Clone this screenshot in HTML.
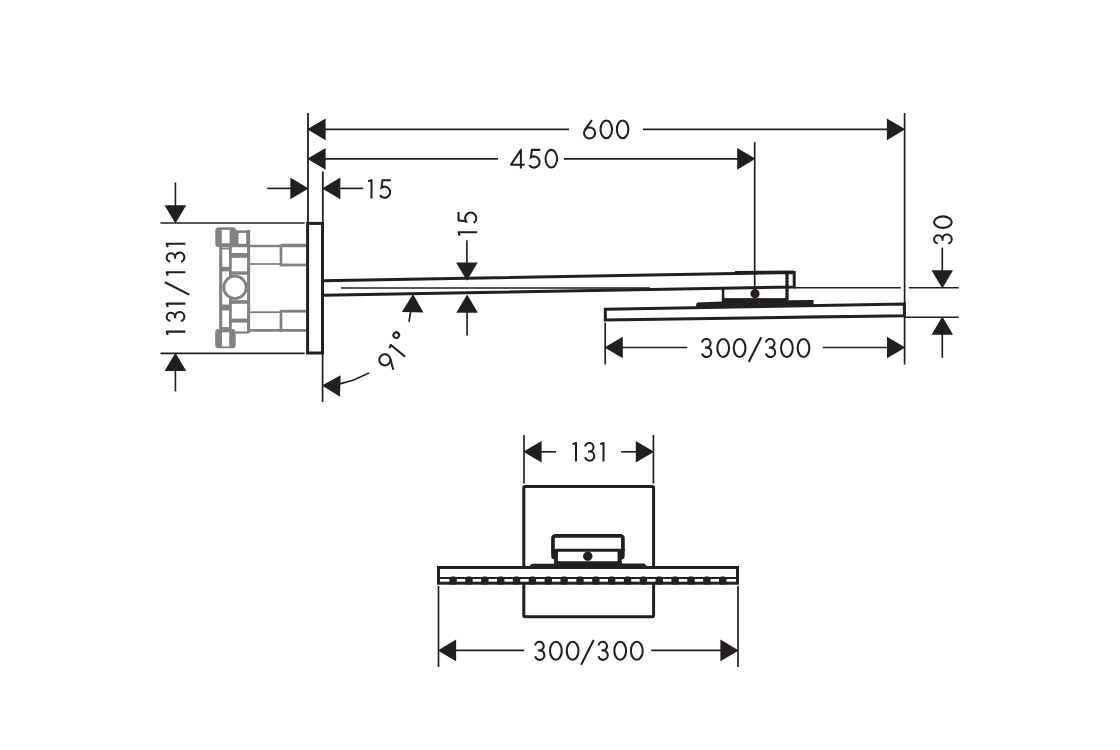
<!DOCTYPE html>
<html><head><meta charset="utf-8"><title>Drawing</title>
<style>html,body{margin:0;padding:0;background:#fff;width:1120px;height:750px;overflow:hidden}svg{display:block}</style>
</head><body><svg width="1120" height="750" viewBox="0 0 1120 750"><line x1="308" y1="129.35" x2="569" y2="129.35" stroke="#231f20" stroke-width="1.65"/><line x1="643" y1="129.35" x2="890" y2="129.35" stroke="#231f20" stroke-width="1.65"/><path d="M307.3 129.35 L325.6 118.55 L325.6 140.15 Z" fill="#231f20"/><path d="M905.2 129.35 L886.9 140.15 L886.9 118.55 Z" fill="#231f20"/><g fill="none" stroke="#231f20" stroke-width="2.05"><g transform="translate(589.6 119.6) scale(1)"><path d="M2.3 0.6 L-4.51 10.12"/><circle cx="0" cy="13.35" r="5.55"/></g><g transform="translate(606.3 119.6) scale(1)"><ellipse cx="0" cy="9.8" rx="5.75" ry="8.85"/></g><g transform="translate(622.6 119.6) scale(1)"><ellipse cx="0" cy="9.8" rx="5.75" ry="8.85"/></g></g><line x1="320" y1="158.85" x2="498" y2="158.85" stroke="#231f20" stroke-width="1.65"/><line x1="564" y1="158.85" x2="740" y2="158.85" stroke="#231f20" stroke-width="1.65"/><path d="M307.3 158.85 L325.6 148.05 L325.6 169.65 Z" fill="#231f20"/><path d="M755.5 158.85 L737.2 169.65 L737.2 148.05 Z" fill="#231f20"/><g fill="none" stroke="#231f20" stroke-width="2.05"><g transform="translate(520.9 148.9) scale(1)"><path d="M0 19.7 L0 0.95 L-10.0 15.8 L3.8 15.8" stroke-linejoin="round"/></g><g transform="translate(534 148.9) scale(1)"><path d="M6.3 0.95 L-2.1 0.95 L-3.13 8.46 A5.6 5.6 0 1 1 -4.75 16.07" stroke-linejoin="miter"/></g><g transform="translate(551.3 148.9) scale(1)"><ellipse cx="0" cy="9.8" rx="5.75" ry="8.85"/></g></g><line x1="308" y1="113" x2="308" y2="223" stroke="#231f20" stroke-width="1.8"/><line x1="904.6" y1="113" x2="904.6" y2="364.5" stroke="#231f20" stroke-width="1.7"/><line x1="754.7" y1="142.2" x2="754.7" y2="293" stroke="#231f20" stroke-width="1.7"/><line x1="267.2" y1="188.4" x2="295" y2="188.4" stroke="#231f20" stroke-width="1.65"/><path d="M308.6 188.4 L290.3 199.2 L290.3 177.6 Z" fill="#231f20"/><path d="M322.1 188.4 L340.4 177.6 L340.4 199.2 Z" fill="#231f20"/><line x1="335" y1="188.4" x2="363.2" y2="188.4" stroke="#231f20" stroke-width="1.65"/><g fill="none" stroke="#231f20" stroke-width="2.05"><g transform="translate(371.5 179.2) scale(0.99)"><path d="M-3.4 2.1 L0 0.95 L0 19.6" stroke-linejoin="round"/></g><g transform="translate(384.6 179.2) scale(0.99)"><path d="M6.3 0.95 L-2.1 0.95 L-3.13 8.46 A5.6 5.6 0 1 1 -4.75 16.07" stroke-linejoin="miter"/></g></g><line x1="322.8" y1="171.5" x2="322.8" y2="223" stroke="#231f20" stroke-width="1.8"/><line x1="322.6" y1="352" x2="322.6" y2="402" stroke="#231f20" stroke-width="1.7"/><line x1="175.4" y1="182.5" x2="175.4" y2="210" stroke="#231f20" stroke-width="1.65"/><path d="M175.4 223.6 L164.6 205.3 L186.2 205.3 Z" fill="#231f20"/><line x1="160.5" y1="223" x2="304.7" y2="223" stroke="#231f20" stroke-width="1.7"/><line x1="160.5" y1="353.4" x2="304.7" y2="353.4" stroke="#231f20" stroke-width="1.7"/><path d="M175.4 352.7 L186.2 371 L164.6 371 Z" fill="#231f20"/><line x1="175.4" y1="365" x2="175.4" y2="391.5" stroke="#231f20" stroke-width="1.65"/><g fill="none" stroke="#231f20" stroke-width="2.05"><g transform="translate(165.7 331.6) rotate(-90) scale(1)"><path d="M-3.4 2.1 L0 0.95 L0 19.6" stroke-linejoin="round"/></g><g transform="translate(165.7 316.9) rotate(-90) scale(1)"><path d="M-4.16 4.62 A4.2 4.2 0 1 1 -0.15 9.4 M-1.3 9.45 L0.27 9.4 A4.63 4.63 0 1 1 -4.2 15.23"/></g><g transform="translate(165.7 303.6) rotate(-90) scale(1)"><path d="M-3.4 2.1 L0 0.95 L0 19.6" stroke-linejoin="round"/></g><g transform="translate(165.7 288.4) rotate(-90) scale(1)"><path d="M6.15 -0.8 L-6.15 23.6"/></g><g transform="translate(165.7 272.2) rotate(-90) scale(1)"><path d="M-3.4 2.1 L0 0.95 L0 19.6" stroke-linejoin="round"/></g><g transform="translate(165.7 257.5) rotate(-90) scale(1)"><path d="M-4.16 4.62 A4.2 4.2 0 1 1 -0.15 9.4 M-1.3 9.45 L0.27 9.4 A4.63 4.63 0 1 1 -4.2 15.23"/></g><g transform="translate(165.7 243.7) rotate(-90) scale(1)"><path d="M-3.4 2.1 L0 0.95 L0 19.6" stroke-linejoin="round"/></g></g><rect x="307.6" y="223.4" width="14.9" height="129.6" fill="none" stroke="#231f20" stroke-width="3"/><path d="M323 280.7 L794.2 272.5 L794.2 287.0 L323 295.2" fill="none" stroke="#231f20" stroke-width="3" stroke-linejoin="miter"/><line x1="735" y1="272" x2="794" y2="271.6" stroke="#231f20" stroke-width="2"/><line x1="341" y1="288" x2="650" y2="288" stroke="#231f20" stroke-width="1.7"/><line x1="787" y1="272.5" x2="787" y2="300.2" stroke="#231f20" stroke-width="3.3"/><line x1="723.1" y1="288" x2="723.1" y2="300.5" stroke="#231f20" stroke-width="2.6"/><line x1="723.1" y1="299.4" x2="787" y2="299.4" stroke="#231f20" stroke-width="2.2"/><circle cx="755" cy="293.7" r="4.6" fill="#231f20"/><path d="M697.5 302.4 L722 301.6 L722 298.6 L788 298.6 L788 300.3 L813.6 300.0 L813.6 305.5 L696.2 307.5 Q695.6 303 697.5 302.4 Z" fill="#231f20"/><line x1="794" y1="287.8" x2="900.8" y2="287.8" stroke="#231f20" stroke-width="1.5"/><line x1="908.8" y1="287.8" x2="958.7" y2="287.8" stroke="#231f20" stroke-width="1.5"/><path d="M605.3 309.25 L904.4 303.95 L904.4 315.65 L605.3 320.1 Z" fill="none" stroke="#231f20" stroke-width="3" stroke-linejoin="miter"/><line x1="780" y1="316.9" x2="903" y2="315.9" stroke="#231f20" stroke-width="1.7"/><line x1="904.6" y1="317.2" x2="958.7" y2="317.2" stroke="#231f20" stroke-width="1.5"/><line x1="942.3" y1="247.7" x2="942.3" y2="275" stroke="#231f20" stroke-width="1.65"/><path d="M942.3 288.5 L931.5 270.2 L953.1 270.2 Z" fill="#231f20"/><path d="M942.3 316.5 L953.1 334.8 L931.5 334.8 Z" fill="#231f20"/><line x1="942.3" y1="330" x2="942.3" y2="357.8" stroke="#231f20" stroke-width="1.65"/><g fill="none" stroke="#231f20" stroke-width="2.05"><g transform="translate(933.1 239.4) rotate(-90) scale(1)"><path d="M-4.16 4.62 A4.2 4.2 0 1 1 -0.15 9.4 M-1.3 9.45 L0.27 9.4 A4.63 4.63 0 1 1 -4.2 15.23"/></g><g transform="translate(933.1 222.1) rotate(-90) scale(1)"><ellipse cx="0" cy="9.8" rx="5.75" ry="8.85"/></g></g><line x1="605.2" y1="322.5" x2="605.2" y2="364.4" stroke="#231f20" stroke-width="1.7"/><path d="M604.5 347.5 L622.8 336.7 L622.8 358.3 Z" fill="#231f20"/><line x1="618" y1="347.5" x2="687.3" y2="347.5" stroke="#231f20" stroke-width="1.65"/><line x1="822.8" y1="347.5" x2="892" y2="347.5" stroke="#231f20" stroke-width="1.65"/><path d="M905.3 347.5 L887 358.3 L887 336.7 Z" fill="#231f20"/><g fill="none" stroke="#231f20" stroke-width="2.05"><g transform="translate(706.3 338) scale(1.02)"><path d="M-4.16 4.62 A4.2 4.2 0 1 1 -0.15 9.4 M-1.3 9.45 L0.27 9.4 A4.63 4.63 0 1 1 -4.2 15.23"/></g><g transform="translate(723.2 338) scale(1.02)"><ellipse cx="0" cy="9.8" rx="5.75" ry="8.85"/></g><g transform="translate(739.6 338) scale(1.02)"><ellipse cx="0" cy="9.8" rx="5.75" ry="8.85"/></g><g transform="translate(755 338) scale(1.02)"><path d="M6.15 -0.8 L-6.15 23.6"/></g><g transform="translate(770.2 338) scale(1.02)"><path d="M-4.16 4.62 A4.2 4.2 0 1 1 -0.15 9.4 M-1.3 9.45 L0.27 9.4 A4.63 4.63 0 1 1 -4.2 15.23"/></g><g transform="translate(786.9 338) scale(1.02)"><ellipse cx="0" cy="9.8" rx="5.75" ry="8.85"/></g><g transform="translate(803.5 338) scale(1.02)"><ellipse cx="0" cy="9.8" rx="5.75" ry="8.85"/></g></g><line x1="466.9" y1="240.2" x2="466.9" y2="268" stroke="#231f20" stroke-width="1.65"/><path d="M466.9 280.7 L456.1 262.4 L477.7 262.4 Z" fill="#231f20"/><path d="M467.1 294.5 L477.9 312.8 L456.3 312.8 Z" fill="#231f20"/><line x1="467.1" y1="305" x2="467.1" y2="335.6" stroke="#231f20" stroke-width="1.65"/><g fill="none" stroke="#231f20" stroke-width="2.05"><g transform="translate(457.6 232.2) rotate(-90) scale(1)"><path d="M-3.4 2.1 L0 0.95 L0 19.6" stroke-linejoin="round"/></g><g transform="translate(457.6 218.2) rotate(-90) scale(1)"><path d="M6.3 0.95 L-2.1 0.95 L-3.13 8.46 A5.6 5.6 0 1 1 -4.75 16.07" stroke-linejoin="miter"/></g></g><path d="M413.01 293.9 L423.45 312.41 L401.85 311.98 Z" fill="#231f20"/><line x1="411.2" y1="308" x2="409" y2="321.8" stroke="#231f20" stroke-width="1.7"/><path d="M322 385.38 L340.62 375.13 L339.97 396.72 Z" fill="#231f20"/><path d="M338 384.3 Q350 381.5 355.3 379.3 Q362 376 369 372.9" fill="none" stroke="#231f20" stroke-width="1.6"/><line x1="524" y1="435" x2="524" y2="483.6" stroke="#231f20" stroke-width="1.7"/><line x1="653.4" y1="435" x2="653.4" y2="483.6" stroke="#231f20" stroke-width="1.7"/><path d="M523.3 451.8 L541.6 441 L541.6 462.6 Z" fill="#231f20"/><line x1="536" y1="451.8" x2="556" y2="451.8" stroke="#231f20" stroke-width="1.65"/><line x1="621.1" y1="451.8" x2="640" y2="451.8" stroke="#231f20" stroke-width="1.65"/><path d="M654.1 451.8 L635.8 462.6 L635.8 441 Z" fill="#231f20"/><g fill="none" stroke="#231f20" stroke-width="2.05"><g transform="translate(576 442) scale(1)"><path d="M-3.4 2.1 L0 0.95 L0 19.6" stroke-linejoin="round"/></g><g transform="translate(589.3 442) scale(1)"><path d="M-4.16 4.62 A4.2 4.2 0 1 1 -0.15 9.4 M-1.3 9.45 L0.27 9.4 A4.63 4.63 0 1 1 -4.2 15.23"/></g><g transform="translate(603.5 442) scale(1)"><path d="M-3.4 2.1 L0 0.95 L0 19.6" stroke-linejoin="round"/></g></g><rect x="523.8" y="486.6" width="129.8" height="130.2" rx="1.2" fill="none" stroke="#231f20" stroke-width="3"/><rect x="438.5" y="567.5" width="299.0" height="15.7" fill="#fff" stroke="#231f20" stroke-width="3"/><line x1="438.5" y1="578" x2="737.5" y2="578" stroke="#231f20" stroke-width="2"/><rect x="449.4" y="576.4" width="7.4" height="8.2" rx="2.6" fill="#231f20"/><rect x="465.26" y="576.4" width="7.4" height="8.2" rx="2.6" fill="#231f20"/><rect x="481.12" y="576.4" width="7.4" height="8.2" rx="2.6" fill="#231f20"/><rect x="496.98" y="576.4" width="7.4" height="8.2" rx="2.6" fill="#231f20"/><rect x="512.84" y="576.4" width="7.4" height="8.2" rx="2.6" fill="#231f20"/><rect x="528.7" y="576.4" width="7.4" height="8.2" rx="2.6" fill="#231f20"/><rect x="544.56" y="576.4" width="7.4" height="8.2" rx="2.6" fill="#231f20"/><rect x="560.42" y="576.4" width="7.4" height="8.2" rx="2.6" fill="#231f20"/><rect x="576.28" y="576.4" width="7.4" height="8.2" rx="2.6" fill="#231f20"/><rect x="592.14" y="576.4" width="7.4" height="8.2" rx="2.6" fill="#231f20"/><rect x="608" y="576.4" width="7.4" height="8.2" rx="2.6" fill="#231f20"/><rect x="623.86" y="576.4" width="7.4" height="8.2" rx="2.6" fill="#231f20"/><rect x="639.72" y="576.4" width="7.4" height="8.2" rx="2.6" fill="#231f20"/><rect x="655.58" y="576.4" width="7.4" height="8.2" rx="2.6" fill="#231f20"/><rect x="671.44" y="576.4" width="7.4" height="8.2" rx="2.6" fill="#231f20"/><rect x="687.3" y="576.4" width="7.4" height="8.2" rx="2.6" fill="#231f20"/><rect x="703.16" y="576.4" width="7.4" height="8.2" rx="2.6" fill="#231f20"/><rect x="719.02" y="576.4" width="7.4" height="8.2" rx="2.6" fill="#231f20"/><path d="M552.95 551 L552.95 538.5 Q552.95 535.8 555.8 535.8 L620.2 535.8 Q622.9 535.8 622.9 538.5 L622.9 551" fill="none" stroke="#231f20" stroke-width="3.7"/><line x1="552" y1="550.25" x2="624" y2="550.25" stroke="#231f20" stroke-width="3.1"/><path d="M551.15 549 L557.9 549 L557.9 564 L554.2 564 L554.2 559.5 Q551.15 559 551.15 556 Z" fill="#231f20"/><path d="M624.7 549 L617.6 549 L617.6 564 L621.4 564 L621.4 559.7 Q624.7 559 624.7 556 Z" fill="#231f20"/><circle cx="587.8" cy="556.3" r="4.7" fill="#231f20"/><path d="M529.4 568.5 Q529.4 563.8 533.5 563.8 L554 563.8 L554 561.3 L622 561.3 L622 563.4 L643 563.4 Q646.3 563.6 646.3 566.5 L646.3 568.5 Z" fill="#231f20"/><line x1="438.5" y1="586" x2="438.5" y2="667" stroke="#231f20" stroke-width="1.7"/><line x1="738" y1="586" x2="738" y2="667" stroke="#231f20" stroke-width="1.7"/><path d="M437.8 650.4 L456.1 639.6 L456.1 661.2 Z" fill="#231f20"/><line x1="450" y1="650.4" x2="524.2" y2="650.4" stroke="#231f20" stroke-width="1.65"/><line x1="651.3" y1="650.4" x2="725" y2="650.4" stroke="#231f20" stroke-width="1.65"/><path d="M738.7 650.4 L720.4 661.2 L720.4 639.6 Z" fill="#231f20"/><g fill="none" stroke="#231f20" stroke-width="2.05"><g transform="translate(539.4 640.8) scale(1.02)"><path d="M-4.16 4.62 A4.2 4.2 0 1 1 -0.15 9.4 M-1.3 9.45 L0.27 9.4 A4.63 4.63 0 1 1 -4.2 15.23"/></g><g transform="translate(555.9 640.8) scale(1.02)"><ellipse cx="0" cy="9.8" rx="5.75" ry="8.85"/></g><g transform="translate(572.6 640.8) scale(1.02)"><ellipse cx="0" cy="9.8" rx="5.75" ry="8.85"/></g><g transform="translate(587.4 640.8) scale(1.02)"><path d="M6.15 -0.8 L-6.15 23.6"/></g><g transform="translate(602.75 640.8) scale(1.02)"><path d="M-4.16 4.62 A4.2 4.2 0 1 1 -0.15 9.4 M-1.3 9.45 L0.27 9.4 A4.63 4.63 0 1 1 -4.2 15.23"/></g><g transform="translate(620.2 640.8) scale(1.02)"><ellipse cx="0" cy="9.8" rx="5.75" ry="8.85"/></g><g transform="translate(636.8 640.8) scale(1.02)"><ellipse cx="0" cy="9.8" rx="5.75" ry="8.85"/></g></g><g fill="none" stroke="#7f8184"><line x1="220.7" y1="245" x2="220.7" y2="331" stroke-width="3.1"/><line x1="248.6" y1="230" x2="248.6" y2="333" stroke-width="3.1"/><line x1="230.4" y1="245" x2="230.4" y2="330" stroke-width="2.8"/><rect x="215.3" y="227.3" width="21.0" height="19.6" rx="3.5" fill="#7f8184" stroke="none"/><rect x="221.8" y="229.9" width="7.8" height="13.3" fill="#fff" stroke="none"/><rect x="237.2" y="231.65" width="10.3" height="13.4" rx="0" stroke-width="2.6"/><line x1="220.6" y1="248.6" x2="230.4" y2="248.6" stroke-width="1.8"/><rect x="230.4" y="253.0" width="18.4" height="4.8" rx="0" fill="#7f8184" stroke="none"/><rect x="220.6" y="266.8" width="9.8" height="4.6" rx="0" fill="#7f8184" stroke="none"/><rect x="230.4" y="271.3" width="18.4" height="3.4" rx="0" fill="#7f8184" stroke="none"/><circle cx="235" cy="287.4" r="11.2" stroke-width="2.8" fill="#fff"/><rect x="230.4" y="300.2" width="18.4" height="3.6" rx="0" fill="#7f8184" stroke="none"/><rect x="220.6" y="304.6" width="9.8" height="5.8" rx="0" fill="#7f8184" stroke="none"/><rect x="230.4" y="318.6" width="18.4" height="4.0" rx="0" fill="#7f8184" stroke="none"/><line x1="220.6" y1="328.0" x2="230.4" y2="328.0" stroke-width="1.8"/><rect x="215.2" y="329.1" width="20.5" height="19.1" rx="3.5" fill="#7f8184" stroke="none"/><rect x="222" y="332.3" width="7.2" height="14.1" fill="#fff" stroke="none"/><line x1="235.6" y1="332.5" x2="248.8" y2="332.5" stroke-width="2.2"/><line x1="220.6" y1="246.0" x2="306" y2="246.0" stroke-width="2.6"/><line x1="249" y1="264.0" x2="281" y2="264.0" stroke-width="1.8"/><line x1="281" y1="265.0" x2="306" y2="265.0" stroke-width="2.8"/><line x1="281" y1="244.5" x2="281" y2="266.4" stroke-width="2.7"/><line x1="281" y1="245.3" x2="306" y2="245.3" stroke-width="3.3"/><line x1="249" y1="312.2" x2="281" y2="312.2" stroke-width="1.8"/><line x1="281" y1="311.2" x2="306" y2="311.2" stroke-width="2.8"/><line x1="248.8" y1="330.3" x2="306" y2="330.3" stroke-width="2.8"/><line x1="281" y1="310" x2="281" y2="332" stroke-width="2.7"/></g><g fill="none" stroke="#231f20" stroke-width="2.05" transform="translate(390 344.3) rotate(-50.8)"><g transform="translate(-15.3 -0.4)"><g transform="rotate(180 0 9.8)"><path d="M2.3 0.6 L-4.51 10.12"/><circle cx="0" cy="13.35" r="5.55"/></g></g><g transform="translate(0 0)"><path d="M-3.4 2.1 L0 0.95 L0 19.6" stroke-linejoin="round"/></g><circle cx="11.1" cy="-1.0" r="2.8"/></g></svg></body></html>
